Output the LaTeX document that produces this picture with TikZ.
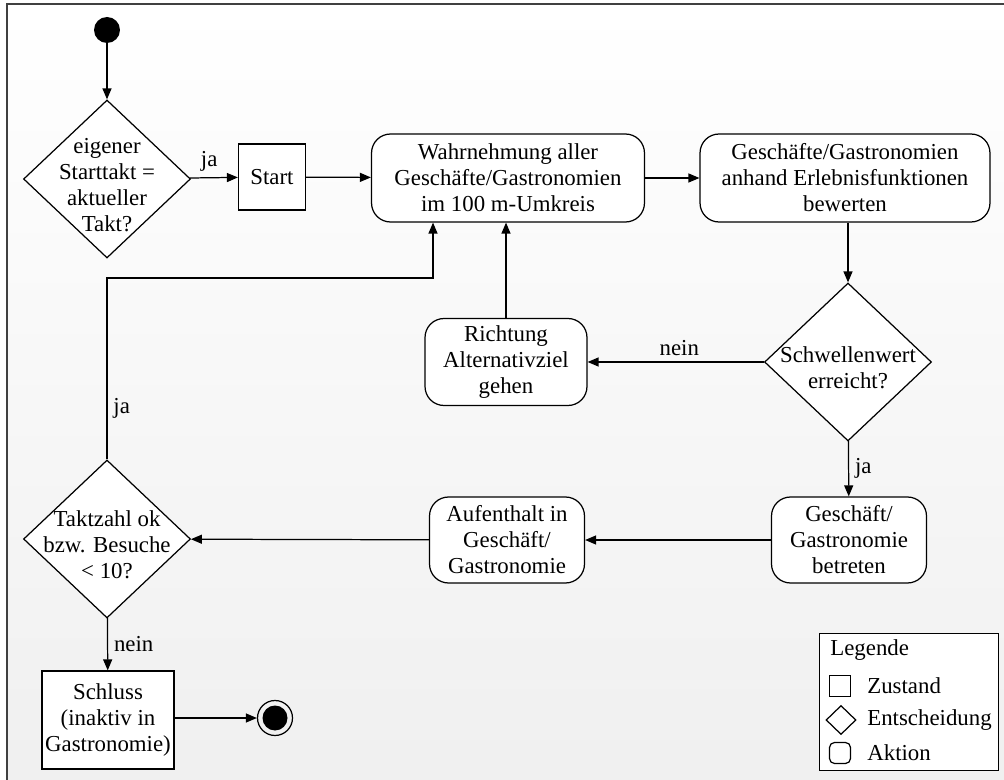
\documentclass[tikz,border=0pt]{standalone}
\usepackage{fontspec}
\setmainfont{Liberation Serif}
\usetikzlibrary{shapes.geometric,arrows.meta}

\begin{document}
\begin{tikzpicture}[x=0.02cm, y=-0.02cm,
    every node/.style = {font=\fontsize{13}{14.8}\selectfont, align=center},
    zustand/.style = {shape=rectangle, draw, fill=white, inner sep=0pt, line width=0.7pt},
    aktion/.style = {shape=rectangle, rounded corners=0.38cm, draw, fill=white,
      inner sep=0pt, line width=0.7pt},
    entscheidung/.style = {shape=diamond, draw, fill=white, inner sep=0pt,
      minimum width=3.34cm, minimum height=3.16cm, line width=0.7pt},
    pfeil/.style = {-{Triangle[length=0.22cm,width=0.18cm]}, line width=0.7pt}]

  \useasboundingbox (0,0) rectangle (1004,780);
  \fill[top color=white, bottom color=black!6] (7,4) rectangle (1004,780);
  \draw[black!75, line width=1pt] (7,780) -- (7,4) -- (1004,4);

  \node[circle, fill=black, minimum size=0.52cm, inner sep=0pt] (anfang) at (107,30) {};
  \node[entscheidung, label={[yshift=-0.12cm]center:eigener\\Starttakt =\\aktueller\\Takt?}]
    (frage1) at (107,179) {};
  \node[zustand, minimum width=1.34cm, minimum height=1.32cm] (start) at (272,177) {Start};
  \node[aktion, minimum width=5.46cm, minimum height=1.76cm] (wahrnehmung) at (508,178)
    {Wahrnehmung aller\\Geschäfte/Gastronomien\\im 100 m-Umkreis};
  \node[aktion, minimum width=5.8cm, minimum height=1.76cm] (bewerten) at (845,178)
    {Geschäfte/Gastronomien\\anhand Erlebnisfunktionen\\bewerten};
  \node[entscheidung, label={[yshift=-0.12cm]center:Schwellenwert\\erreicht?}]
    (schwelle) at (848,362) {};
  \node[aktion, minimum width=3.24cm, minimum height=1.74cm] (richtung) at (506,362)
    {Richtung\\Alternativziel\\gehen};
  \node[aktion, minimum width=3.1cm, minimum height=1.72cm] (betreten) at (849,540)
    {Geschäft/\\Gastronomie\\betreten};
  \node[aktion, minimum width=3.1cm, minimum height=1.72cm] (aufenthalt) at (507,540)
    {Aufenthalt in\\Geschäft/\\Gastronomie};
  \node[entscheidung, label={[yshift=-0.12cm]center:Taktzahl ok\\bzw. Besuche\\< 10?}]
    (frage2) at (107,539) {};
  \node[zustand, minimum width=2.64cm, minimum height=1.96cm] (schluss) at (108,720)
    {Schluss\\(inaktiv in\\Gastronomie)};
  \node[circle, draw, minimum size=0.7cm, inner sep=0pt, line width=0.7pt,
    path picture={\fill (path picture bounding box.center) circle (0.25cm);}]
    (ende) at (275,718) {};
  \coordinate (knick) at (433,278);

  \draw[pfeil] (anfang) -- (frage1);
  \draw[pfeil] (frage1) -- node[above, pos=0.4]{ja} (start);
  \draw[pfeil] (start) -- (wahrnehmung);
  \draw[pfeil] (wahrnehmung) -- (bewerten);
  \draw[pfeil] (schwelle |- bewerten.south) -- (schwelle);
  \draw[pfeil] (schwelle) -- node[above, pos=0.48]{nein} (richtung);
  \draw[pfeil] (richtung) -- (richtung |- wahrnehmung.south);
  \draw[pfeil] (schwelle) -- node[right]{ja} (betreten);
  \draw[pfeil] (betreten) -- (aufenthalt);
  \draw[pfeil] (aufenthalt) -- (frage2);
  \draw[pfeil] (frage2.north) -- node[right, pos=0.28]{ja} (frage2.north |- knick)
    -- (knick) -- (knick |- wahrnehmung.south);
  \draw[pfeil] (frage2) -- node[right]{nein} (schluss);
  \draw[pfeil] (schluss.east |- ende) -- (ende);

  \node[draw, fill=white, minimum width=3.58cm, minimum height=2.74cm, inner sep=0pt,
    line width=0.7pt] (legende) at (909,702) {};
  \node[anchor=west, inner sep=0pt] (legtitel) at (830,650) {Legende};
  \node[zustand, minimum size=0.42cm] (legzustand) at (840,686) {};
  \node[entscheidung, minimum width=0.6cm, minimum height=0.58cm] (legentscheidung)
    at (841,720) {};
  \node[aktion, minimum size=0.42cm, rounded corners=0.1cm] (legaktion) at (840,753) {};
  \node[anchor=west, inner sep=0pt] (txtzustand) at (867,686) {Zustand};
  \node[anchor=west, inner sep=0pt] (txtentscheidung) at (867,720) {Entscheidung};
  \node[anchor=west, inner sep=0pt] (txtaktion) at (867,753) {Aktion};
\end{tikzpicture}
\end{document}
